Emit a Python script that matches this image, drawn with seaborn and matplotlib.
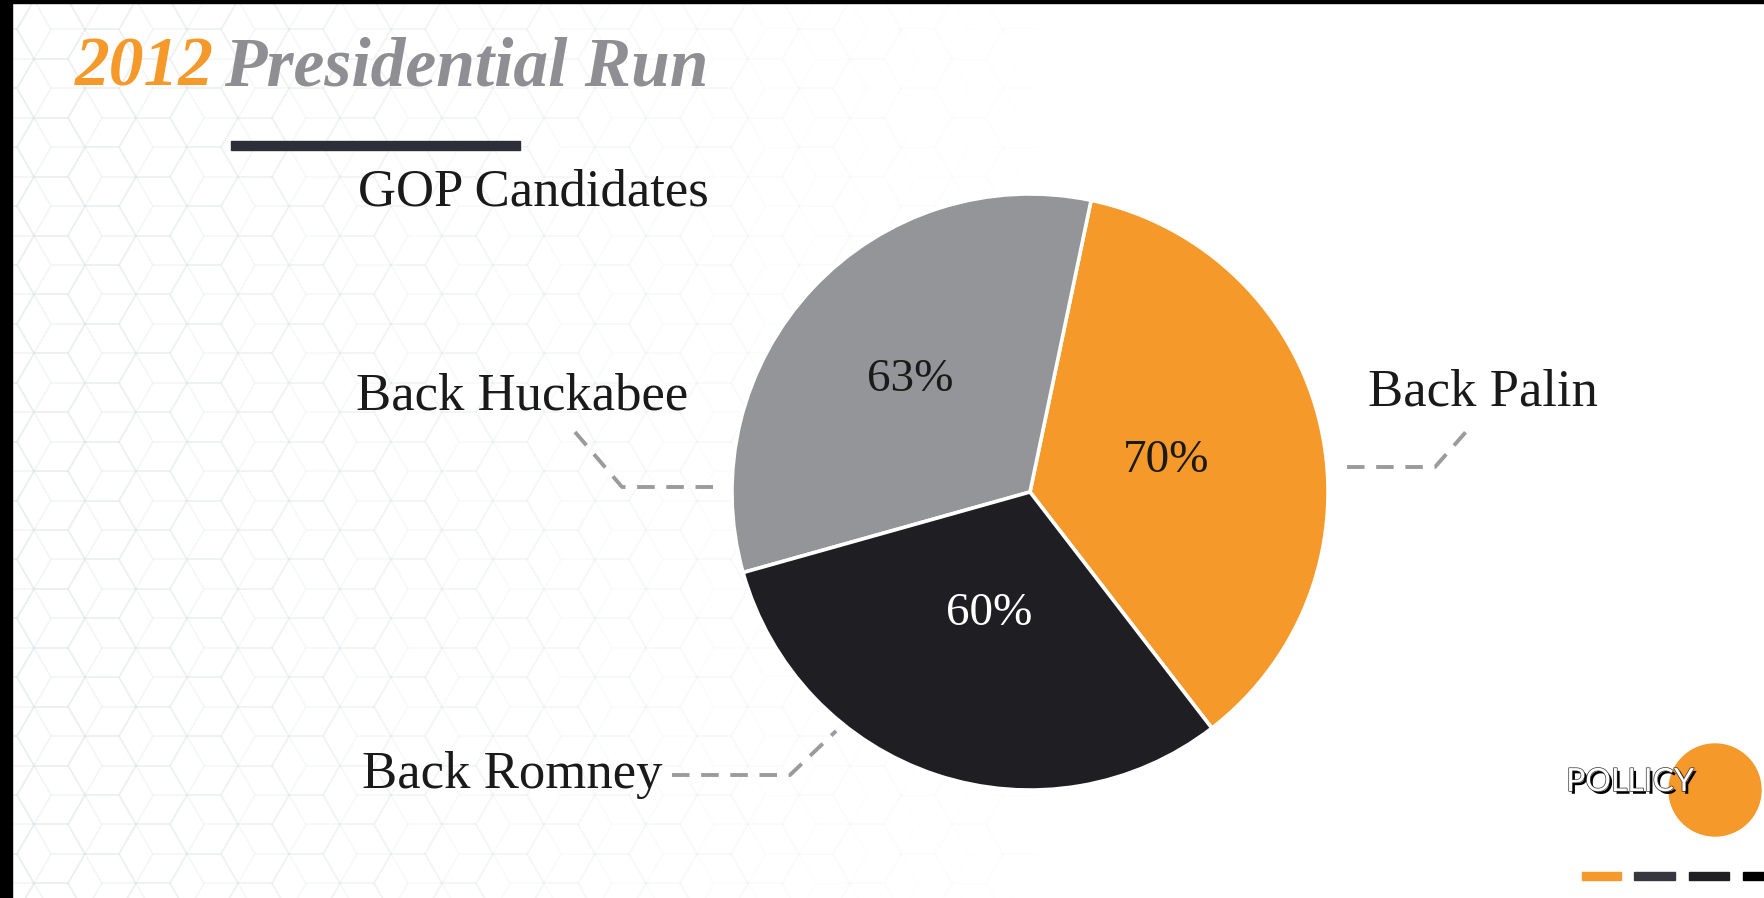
import numpy as np
import matplotlib
matplotlib.use("Agg")
import matplotlib.pyplot as plt
import matplotlib.patheffects as pe
from matplotlib.collections import LineCollection
from matplotlib.patches import Circle, Rectangle
import seaborn as sns

# ---- data -------------------------------------------------------------
candidates = ["Back Palin", "Back Huckabee", "Back Romney"]
support = [70, 63, 60]
slice_colors = ["#F4992A", "#939598", "#1E1E23"]
pct_colors = ["#1a1a1a", "#1a1a1a", "#ffffff"]
subtitle = "GOP Candidates"
title_year = "2012"
title_rest = "Presidential Run"

# ---- canvas -----------------------------------------------------------
W, H = 1765, 898
sns.set_theme(style="white")
plt.rcParams["font.family"] = ["Liberation Serif", "DejaVu Serif"]

fig = plt.figure(figsize=(W / 100, H / 100), dpi=100)
fig.patch.set_facecolor("white")

# Background layer in pixel units (y grows downwards)
bg = fig.add_axes([0, 0, 1, 1], zorder=0)
bg.set_xlim(0, W)
bg.set_ylim(H, 0)
bg.axis("off")

# Faint tumbling-block pattern, fading out towards the right
a = 34.0
s3 = np.sqrt(3)
segs, alphas = [], []
for col in range(-1, int(W / (1.5 * a)) + 2):
    cx = col * 1.5 * a
    for row in range(-1, int(H / (s3 * a)) + 2):
        cy = row * s3 * a + (col % 2) * s3 * a / 2
        verts = [(cx + a * np.cos(np.radians(t)), cy + a * np.sin(np.radians(t)))
                 for t in range(0, 360, 60)]
        for i in range(6):
            segs.append([verts[i], verts[(i + 1) % 6]])
        for i in (0, 2, 4):
            segs.append([(cx, cy), verts[i]])
for sgm in segs:
    mx = (sgm[0][0] + sgm[1][0]) / 2
    alphas.append(max(0.0, 1 - mx / 1050) ** 1.2 * 0.32)
cols = [(0.86, 0.88, 0.89, al) for al in alphas]
bg.add_collection(LineCollection(segs, colors=cols, linewidths=1.3, zorder=0))

# Dark frame edges
bg.add_patch(Rectangle((0, 0), 12, H, color="black", zorder=5))
bg.add_patch(Rectangle((0, 0), W, 3, color="black", zorder=5))

# ---- titles -----------------------------------------------------------
t1 = bg.text(75, 86, title_year, color="#F4992A", fontsize=50,
             fontweight="bold", fontstyle="italic", va="baseline", ha="left")
fig.canvas.draw()
bb = t1.get_window_extent()
bg.text(75 + bb.width + 10, 86, title_rest, color="#8E8E93", fontsize=50,
        fontweight="bold", fontstyle="italic", va="baseline", ha="left")
bg.add_patch(Rectangle((231, 141), 289, 9, color="#2E2D3A", zorder=2))
bg.text(358, 205, subtitle, color="#1a1a1a", fontsize=38,
        va="baseline", ha="left")

# ---- pie --------------------------------------------------------------
cx, cy, r = 1030, 492, 304
ax = fig.add_axes([(cx - r) / W, (H - cy - r) / H, 2 * r / W, 2 * r / H], zorder=2)
ax.set_facecolor("none")
wedges, _ = ax.pie(support, colors=slice_colors, startangle=-52.4,
                   counterclock=True, radius=1,
                   wedgeprops=dict(edgecolor="white", linewidth=2.6))
ax.set_xlim(-1.02, 1.02)
ax.set_ylim(-1.02, 1.02)
ax.set_aspect("equal")
ax.axis("off")

label_radius = [0.47, 0.55, 0.43]
for w, val, rr, tc in zip(wedges, support, label_radius, pct_colors):
    mid = np.radians((w.theta1 + w.theta2) / 2)
    ax.text(rr * np.cos(mid), rr * np.sin(mid), f"{val}%", color=tc,
            fontsize=34, ha="center", va="center")

# ---- callout labels ---------------------------------------------------
lead = dict(color="#9B9B9B", linewidth=2.8, linestyle=(0, (4.5, 3.0)),
            solid_capstyle="butt", dash_capstyle="butt")
label_pos = {"Back Palin": (1368, 406), "Back Huckabee": (356, 410),
             "Back Romney": (362, 788)}
leaders = {"Back Palin": [(1347, 467), (1435, 467), (1472, 425)],
           "Back Huckabee": [(575, 432), (622, 487), (718, 487)],
           "Back Romney": [(672, 775), (790, 775), (836, 731)]}
for name in candidates:
    x, y = label_pos[name]
    bg.text(x, y, name, color="#1a1a1a", fontsize=38, va="baseline", ha="left")
    pts = np.array(leaders[name])
    bg.plot(pts[:, 0], pts[:, 1], **lead)

# ---- brand mark -------------------------------------------------------
bg.add_patch(Circle((1715, 790), 46, color="#F4992A", zorder=3))
bg.text(1630, 782, "POLLICY", color="white", fontsize=23, fontweight="normal",
        family="Lato", ha="center", va="center", zorder=4,
        path_effects=[pe.withSimplePatchShadow(offset=(2.0, -2.0),
                                              shadow_rgbFace="black", alpha=1),
                      pe.Stroke(linewidth=1.0, foreground="#333333"),
                      pe.Normal()])
for x0, x1, c in [(1582, 1621, "#F4992A"), (1634, 1675, "#38373F"),
                  (1689, 1729, "#1F1F24"), (1743, 1765, "#000000")]:
    bg.add_patch(Rectangle((x0, 872), x1 - x0, 8, color=c, zorder=2))

fig.savefig("out.png", dpi=100, facecolor="white")
